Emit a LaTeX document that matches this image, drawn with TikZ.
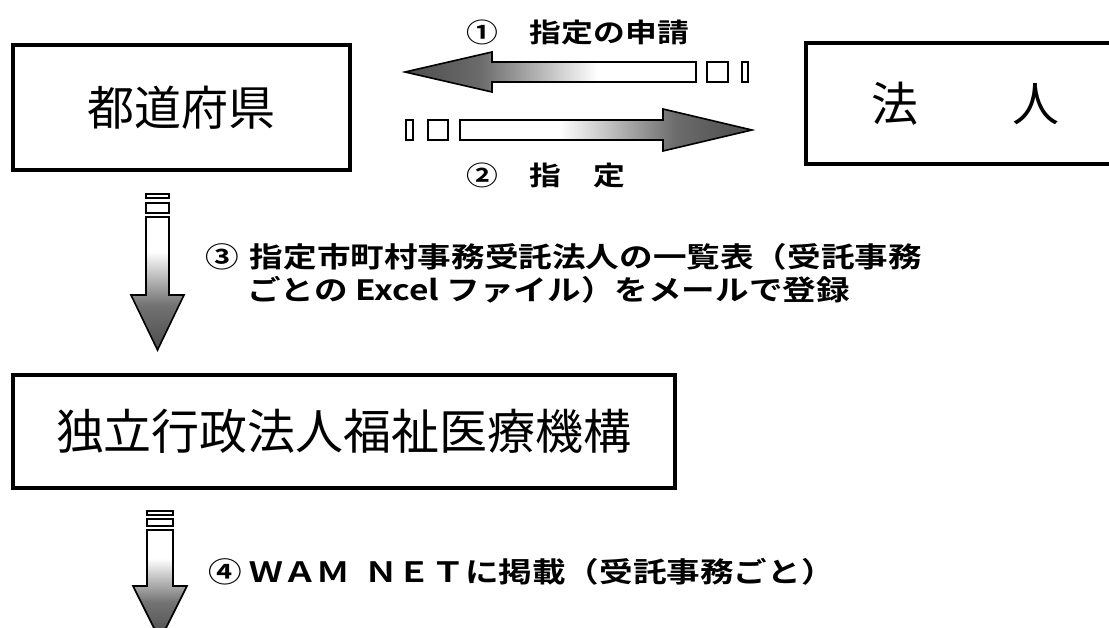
\documentclass[tikz,border=0pt]{standalone}
\usepackage{fontspec}
\newfontfamily\jp{Noto Sans CJK JP}
\newfontfamily\jpwide[FakeStretch=1.2, BoldFont={Noto Sans CJK JP Bold}]{Noto Sans CJK JP}
\usepackage{tikz}
\pgfdeclarehorizontalshading{fadeleft}{100bp}{color(0bp)=(black!70); color(25bp)=(black!70); color(38bp)=(black!58); color(58bp)=(white); color(100bp)=(white)}
\pgfdeclarehorizontalshading{faderight}{100bp}{color(0bp)=(white); color(42bp)=(white); color(62bp)=(black!58); color(75bp)=(black!70); color(100bp)=(black!70)}
\pgfdeclareverticalshading{fadedown}{100bp}{color(0bp)=(black!70); color(25bp)=(black!70); color(42bp)=(black!55); color(62bp)=(white); color(100bp)=(white)}
\tikzstyle{box} = [rectangle, draw, line width=4pt, inner sep=0pt, font=\jp\fontsize{47}{50}\selectfont]
\tikzstyle{lbl} = [inner sep=0pt, anchor=west, font=\jpwide\bfseries\fontsize{26.5}{30}\selectfont]
\tikzstyle{lblb} = [inner sep=0pt, anchor=west, font=\jpwide\bfseries\fontsize{28}{32}\selectfont]
\tikzstyle{shaft} = [draw, line width=1.6pt, line join=miter]
\tikzstyle{stub} = [draw, fill=white, line width=1.5pt]

\begin{document}
\begin{tikzpicture}[x=1pt,y=-1pt]
    \useasboundingbox (0,0) rectangle (1109,628);
    \clip (0,0) rectangle (1109,628);
    % Place boxes
    \node [box, minimum width=337, minimum height=125] (pref) at (181.5,107.5) {都道府県};
    \node [box, minimum width=319, minimum height=121] (corp) at (965.5,103.5) {法　　人};
    \node [box, minimum width=662, minimum height=113, font=\jp\fontsize{48}{50}\selectfont] (wam) at (344,431.5) {独立行政法人福祉医療機構};
    % Arrow 1: application
    \coordinate (reqtip) at (405,72);
    \shadedraw [shaft, shading=fadeleft] (reqtip) -- ++(87,-20) -- ++(0,10) -- ++(204,0) -- ++(0,20) -- ++(-204,0) -- ++(0,10) -- cycle;
    \draw [stub] (707,62) rectangle (728,82);
    \draw [stub] (742,62) rectangle (748,82);
    % Arrow 2: designation
    \coordinate (dsgtip) at (752,130);
    \shadedraw [shaft, shading=faderight] (dsgtip) -- ++(-89,-21) -- ++(0,11) -- ++(-203,0) -- ++(0,20) -- ++(203,0) -- ++(0,11) -- cycle;
    \draw [stub] (428,120) rectangle (448,140);
    \draw [stub] (406,120) rectangle (413,140);
    % Arrow 3: registration
    \coordinate (regtip) at (157.5,350);
    \shadedraw [shaft, shading=fadedown] (regtip) -- ++(-26.5,-55) -- ++(15,0) -- ++(0,-78) -- ++(23,0) -- ++(0,78) -- ++(15,0) -- cycle;
    \draw [stub] (146,203) rectangle (169,213);
    \draw [stub] (146,194) rectangle (169,198);
    % Arrow 4: publication
    \coordinate (pubtip) at (160,640);
    \shadedraw [shaft, shading=fadedown] (pubtip) -- ++(-27,-54) -- ++(14,0) -- ++(0,-56) -- ++(26,0) -- ++(0,56) -- ++(14,0) -- cycle;
    \draw [stub] (147,519) rectangle (173,526);
    \draw [stub] (147,511) rectangle (173,515);
    % Labels
    \node [lbl] (req) at (466,32) {①　指定の申請};
    \node [lbl] (dsg) at (466,175) {②　指　定};
    \node [lblb] (reg1) at (205,257) {③\hspace{0.4em}指定市町村事務受託法人の一覧表（受託事務};
    \node [lblb] (reg2) at (247,290) {ごとの Excel ファイル）をメールで登録};
    \node [lblb] (pub) at (208,572) {④ ＷＡＭ\hspace{0.5em}ＮＥＴに掲載（受託事務ごと）};
\end{tikzpicture}
\end{document}
